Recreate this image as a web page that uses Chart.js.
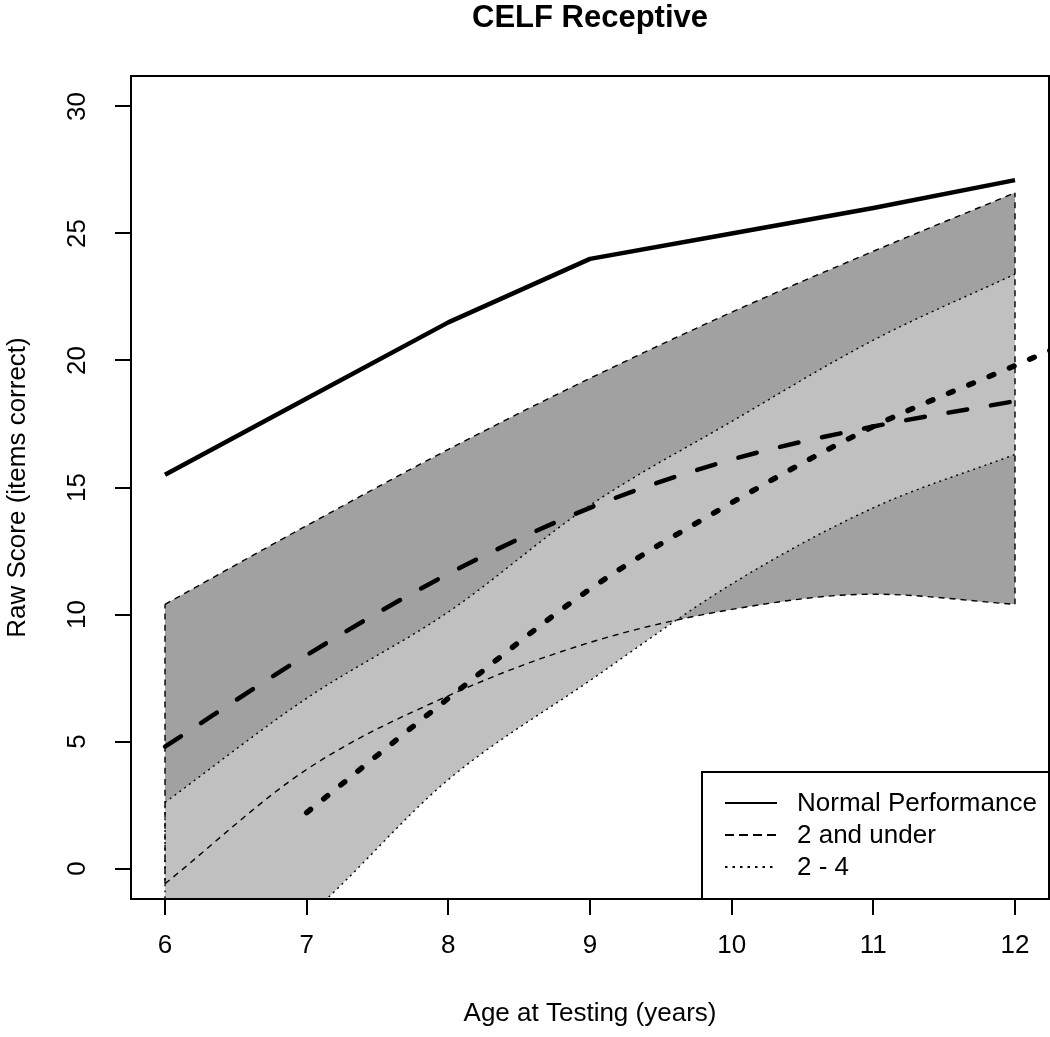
<!DOCTYPE html>
<html>
<head>
<meta charset="utf-8">
<script src="https://cdn.jsdelivr.net/npm/chart.js@4.4.0/dist/chart.umd.min.js"></script>
<style>
  html, body { margin: 0; padding: 0; background: #fff; }
  #wrap { width: 1050px; height: 1037px; }
</style>
</head>
<body>
<div id="wrap"><canvas id="myChart" width="1050" height="1037"></canvas></div>
<script>
// values
var ages = [6, 7, 8, 9, 10, 11, 12];
var normalScore = [15.5, 18.5, 21.5, 24.0, 25.0, 26.0, 27.1];
var underTwoMean = [4.8, 8.4, 11.6, 14.2, 16.1, 17.4, 18.4];
var underTwoUpper = [10.4, 13.5, 16.5, 19.3, 21.9, 24.3, 26.6];
var underTwoLower = [-0.6, 3.9, 6.8, 8.9, 10.2, 10.8, 10.4];
var twoFourAges = [7, 8, 9, 10, 11, 12, 12.5];
var twoFourMean = [2.2, 6.7, 11.0, 14.4, 17.4, 19.8, 21.0];
var twoFourUpper = [2.6, 6.7, 10.1, 14.3, 17.6, 20.8, 23.4];
var twoFourLower = [-5.9, -1.9, 3.5, 7.4, 11.2, 14.2, 16.3];
var xTicks = [6, 7, 8, 9, 10, 11, 12];
var yTicks = [0, 5, 10, 15, 20, 25, 30];

var FONT = '"Liberation Sans", Arial, Helvetica, sans-serif';
Chart.defaults.font.family = FONT;
Chart.defaults.color = '#000';

function pts(xs, ys) {
    return xs.map(function (x, i) { return { x: x, y: ys[i] }; });
}
// vertical side of a band, from its lower to its upper bound at one age
function side(i, lo, hi) {
    return [{ x: ages[i], y: lo[i] }, { x: ages[i], y: hi[i] }];
}
var last = ages.length - 1;

function thin(data, dash, extra) {
    var ds = {
        data: data, borderColor: '#000', borderWidth: 1.4, borderDash: dash,
        pointRadius: 0, fill: false, cubicInterpolationMode: 'monotone'
    };
    for (var k in extra) ds[k] = extra[k];
    return ds;
}

var DASH_THIN = [6, 5];
var DOT_THIN = [2, 4];

var boxPlugin = {
    id: 'box',
    afterDraw: function (chart) {
        var a = chart.chartArea, ctx = chart.ctx;
        ctx.save();
        // legend, bottom right inside the plot box
        var w = 347, h = 127;
        var lx = a.right - w, ly = a.bottom - h;
        ctx.fillStyle = '#fff';
        ctx.fillRect(lx, ly, w, h);
        ctx.strokeStyle = '#000';
        ctx.lineWidth = 2;
        ctx.strokeRect(lx, ly, w, h);
        var items = [
            { label: chart.data.datasets[0].label, dash: [], width: 2 },
            { label: chart.data.datasets[1].label, dash: [9, 5], width: 2 },
            { label: chart.data.datasets[2].label, dash: [2.5, 5], width: 2 }
        ];
        ctx.font = '26px ' + FONT;
        ctx.textBaseline = 'middle';
        ctx.fillStyle = '#000';
        items.forEach(function (it, i) {
            var y = ly + 31 + i * 32;
            ctx.beginPath();
            ctx.setLineDash(it.dash);
            ctx.lineWidth = it.width;
            ctx.moveTo(lx + 23, y);
            ctx.lineTo(lx + 75, y);
            ctx.stroke();
            ctx.setLineDash([]);
            ctx.fillText(it.label, lx + 95, y + 1);
        });
        // plot frame
        ctx.lineWidth = 2;
        ctx.strokeRect(a.left, a.top, a.right - a.left, a.bottom - a.top);
        ctx.restore();
    }
};

var ctx = document.getElementById('myChart').getContext('2d');
var chart = new Chart(ctx, {
    type: 'line',
    data: {
        datasets: [{
            label: 'Normal Performance',
            data: pts(ages, normalScore),
            borderColor: '#000', borderWidth: 4.5, pointRadius: 0, tension: 0,
            borderJoinStyle: 'round', order: 0
        }, {
            label: '2 and under',
            data: pts(ages, underTwoMean),
            borderColor: '#000', borderWidth: 4.5, borderDash: [19, 24], borderCapStyle: 'round',
            pointRadius: 0, cubicInterpolationMode: 'monotone', order: 0
        }, {
            label: '2 - 4',
            data: pts(twoFourAges, twoFourMean),
            borderColor: '#000', borderWidth: 5.5, borderDash: [5, 17], borderCapStyle: 'round',
            pointRadius: 0, cubicInterpolationMode: 'monotone', order: 0
        },
        // 2 - 4 band (light)
        thin(pts(ages, twoFourUpper), DOT_THIN, { fill: 4, backgroundColor: '#c0c0c0', order: 2 }),
        thin(pts(ages, twoFourLower), DOT_THIN, { order: 2 }),
        thin(side(0, twoFourLower, twoFourUpper), DOT_THIN, { order: 2 }),
        // 2 and under band (dark)
        thin(pts(ages, underTwoUpper), DASH_THIN, { fill: 7, backgroundColor: '#a1a1a1', order: 3 }),
        thin(pts(ages, underTwoLower), DASH_THIN, { order: 1 }),
        thin(side(0, underTwoLower, underTwoUpper), DASH_THIN, { order: 1 }),
        thin(side(last, underTwoLower, underTwoUpper), DASH_THIN, { order: 1 })
        ]
    },
    options: {
        responsive: false,
        animation: false,
        events: [],
        layout: { padding: { left: 0, right: 1, top: 0, bottom: 0 } },
        plugins: {
            legend: { display: false },
            tooltip: { enabled: false },
            filler: { drawTime: 'beforeDatasetsDraw' },
            title: {
                display: true,
                text: 'CELF Receptive',
                fullSize: false,
                color: '#000',
                font: { size: 31, weight: 'bold', lineHeight: 1 },
                padding: { top: 3, bottom: 42 }
            }
        },
        scales: {
            x: {
                type: 'linear',
                min: 5.76,
                max: 12.24,
                afterBuildTicks: function (s) { s.ticks = xTicks.map(function (v) { return { value: v }; }); },
                afterFit: function (s) { s.height = 138; },
                ticks: { autoSkip: false, maxRotation: 0, padding: 15, font: { size: 26 }, color: '#000' },
                grid: { drawOnChartArea: false, drawTicks: true, tickLength: 16, color: '#000', lineWidth: 2 },
                border: { display: false },
                title: {
                    display: true, text: 'Age at Testing (years)', color: '#000',
                    font: { size: 26, lineHeight: 1.2 }, padding: { top: 0, bottom: 8 }
                }
            },
            y: {
                type: 'linear',
                min: -1.2,
                max: 31.2,
                afterBuildTicks: function (s) { s.ticks = yTicks.map(function (v) { return { value: v }; }); },
                afterFit: function (s) { s.width = 131; },
                ticks: { minRotation: 90, maxRotation: 90, crossAlign: 'center', padding: 23, font: { size: 26 }, color: '#000' },
                grid: { drawOnChartArea: false, drawTicks: true, tickLength: 16, color: '#000', lineWidth: 2 },
                border: { display: false },
                title: {
                    display: true, text: 'Raw Score (items correct)', color: '#000',
                    font: { size: 26, lineHeight: 1.2 }, padding: { top: 2, bottom: 0 }
                }
            }
        }
    },
    plugins: [boxPlugin]
});
</script>
</body>
</html>
